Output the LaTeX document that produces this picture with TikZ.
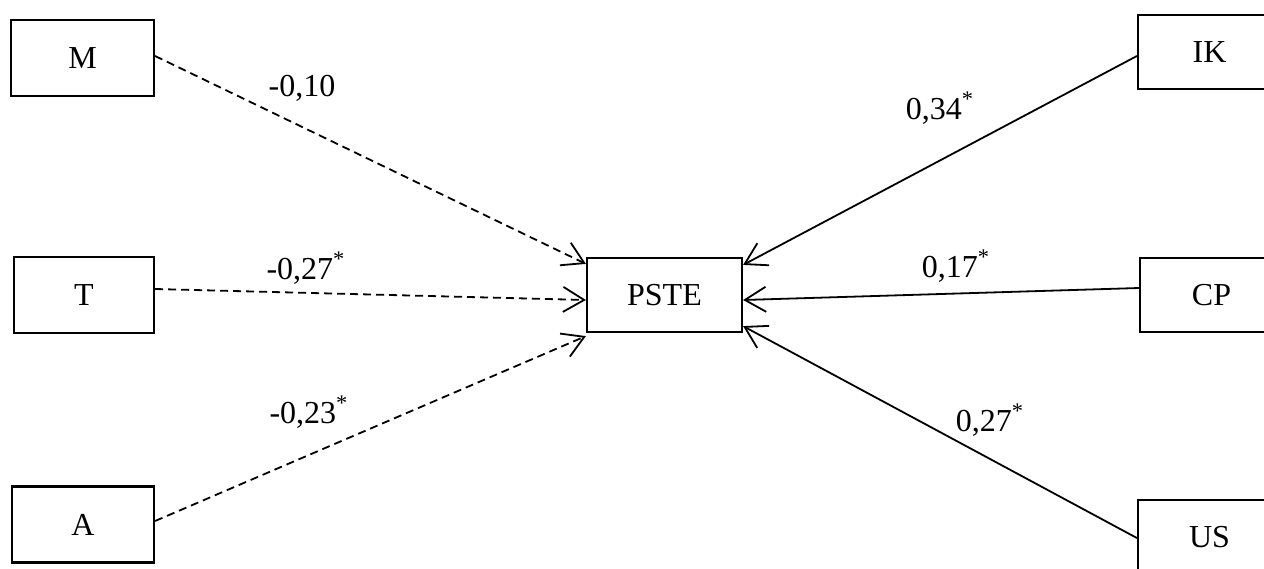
\documentclass[tikz,border=0pt]{standalone}
\usepackage{fontspec}
\setmainfont{Liberation Serif}
\usetikzlibrary{arrows.meta}

\begin{document}
\begin{tikzpicture}[x=0.5pt,y=-0.5pt,
        box/.style={draw,line width=1.1pt,minimum width=71.5pt,minimum height=38pt,inner sep=0pt,font=\fontsize{16}{19}\selectfont},
        coef/.style={inner sep=0pt,font=\fontsize{16}{19}\selectfont},
        effect/.style={line width=0.9pt,-{Straight Barb[length=10.5pt,width=12.5pt]}},
        negeffect/.style={effect,dash pattern=on 4pt off 2.5pt}]
                \useasboundingbox (0,0) rectangle (1264,568);
                \clip (0,0) rectangle (1264,568);

                \node[box] (M) at (82.5,58) {M};
                \node[box,minimum width=70pt] (T) at (84,295) {T};
                \node[box,minimum width=71pt] (A) at (83,524.5) {A};
                \node[box,minimum width=77.5pt,minimum height=37pt] (PSTE) at (664.5,295) {PSTE};
                \node[box,minimum height=37pt] (IK) at (1209.5,52) {IK};
                \node[box,minimum height=37pt] (CP) at (1211.5,295) {CP};
                \node[box,minimum height=37pt] (US) at (1209.5,537) {US};

                \node[coef] (mcoef) at (302,88) {-0,10};
                \node[coef] (tcoef) at (306,268) {-0,27\textsuperscript{*}};
                \node[coef] (acoef) at (309,412) {-0,23\textsuperscript{*}};
                \node[coef] (ikcoef) at (940,108) {0,34\textsuperscript{*}};
                \node[coef] (cpcoef) at (956,266) {0,17\textsuperscript{*}};
                \node[coef] (uscoef) at (990,420) {0,27\textsuperscript{*}};

                \draw[negeffect] ([yshift=1pt]M.east) -- ([yshift=-3.5pt]PSTE.north west);
                \draw[negeffect] ([yshift=3pt]T.east) -- ([yshift=-2.5pt]PSTE.west);
                \draw[negeffect] ([yshift=1.75pt]A.east) -- ([yshift=-1.5pt]PSTE.south west);
                \draw[effect] ([yshift=-2pt]IK.west) -- ([yshift=-4pt]PSTE.north east);
                \draw[effect] ([yshift=3.5pt]CP.west) -- ([yshift=-2.5pt]PSTE.east);
                \draw[effect] ([yshift=-0.5pt]US.west) -- ([yshift=3.5pt]PSTE.south east);
            \end{tikzpicture}
\end{document}
